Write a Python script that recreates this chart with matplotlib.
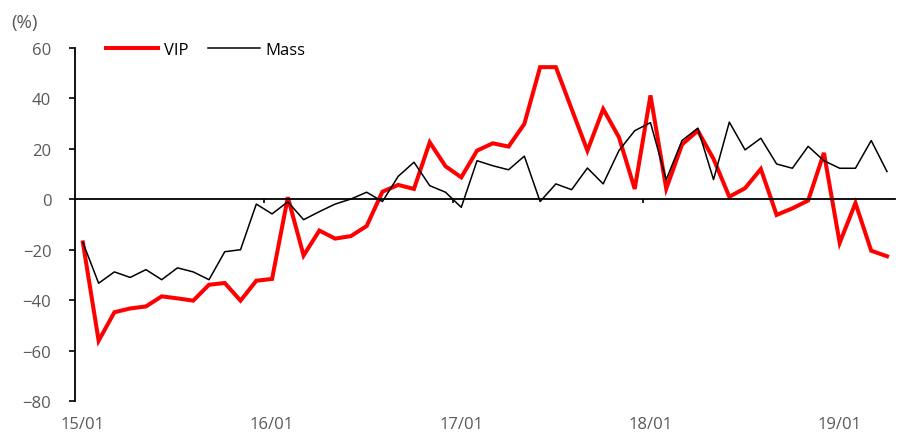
import numpy as np
import matplotlib.pyplot as plt

# monthly series, 15/01 .. 19/04
vip = [-17.1, -56.1, -44.8, -43.3, -42.5, -38.5, -39.3, -40.2, -33.9, -33.2, -40.2, -32.3,
       -31.6, 0.8, -22.3, -12.4, -15.6, -14.6, -10.6, 3.0, 5.7, 4.1, 22.6, 13.1,
       8.7, 19.3, 22.2, 20.9, 29.9, 52.4, 52.4, 35.8, 19.3, 35.8, 24.6, 4.1,
       41.2, 4.2, 21.7, 27.2, 16.0, 1.0, 4.4, 12.0, -6.2, -3.6, -0.5, 18.4,
       -17.3, -1.5, -20.4, -22.6]
mass = [-17.1, -33.3, -28.8, -31.0, -27.9, -31.9, -27.2, -28.8, -31.9, -20.8, -20.0, -1.9,
        -5.8, -1.0, -8.1, -4.9, -1.9, 0.1, 2.8, -0.9, 9.1, 14.7, 5.4, 2.8,
        -3.2, 15.3, 13.3, 11.7, 17.1, -0.9, 6.1, 3.8, 12.4, 6.1, 19.3, 27.2,
        30.4, 7.8, 23.3, 28.2, 7.8, 30.6, 19.6, 24.2, 14.0, 12.3, 21.0, 15.3,
        12.3, 12.3, 23.3, 11.0]
year_labels = ['15/01', '16/01', '17/01', '18/01', '19/01']
yticks = [60, 40, 20, 0, -20, -40, -60, -80]

x = np.arange(len(vip))
gray = '#595959'
fs = 12
plt.rcParams['font.family'] = ['Open Sans', 'DejaVu Sans']

fig = plt.figure(figsize=(8.99, 4.39), dpi=100)
ax = fig.add_axes([0.0834, 0.0843, 0.9120, 0.8041])

ax.plot(x, vip, color='#ff0000', lw=2.9, label='VIP', solid_joinstyle='miter')
ax.plot(x, mass, color='black', lw=1.1, label='Mass')

ax.set_xlim(-0.5, len(vip) - 0.5)
ax.set_ylim(-80, 60)
ax.set_yticks(yticks)
ax.tick_params(axis='y', direction='out', length=4, width=1.2, colors='black',
               labelcolor=gray, labelsize=fs, pad=13)
for s in ['top', 'right']:
    ax.spines[s].set_visible(False)
ax.spines['left'].set_linewidth(1.3)

# zero line carries the year-boundary ticks
ax.spines['bottom'].set_position(('data', 0))
ax.spines['bottom'].set_linewidth(1.3)
ax.set_xticks(np.arange(12, len(vip), 12) - 0.5)
ax.set_xticklabels([])
ax.tick_params(axis='x', direction='out', length=3, width=1.2)

sec = ax.secondary_xaxis(0)
sec.set_xticks(np.arange(0, len(vip), 12), year_labels)
sec.tick_params(length=0, labelsize=fs, labelcolor=gray, pad=11)
sec.spines['bottom'].set_visible(False)

fig.text(0.013, 0.948, '(%)', fontsize=13.5, color=gray, va='center')

ax.legend(loc='upper left', bbox_to_anchor=(0.02, 1.06), ncol=2, frameon=False,
          fontsize=fs, handlelength=3.1, handletextpad=0.35, columnspacing=1.2)

fig.savefig('out.png', dpi=100)
